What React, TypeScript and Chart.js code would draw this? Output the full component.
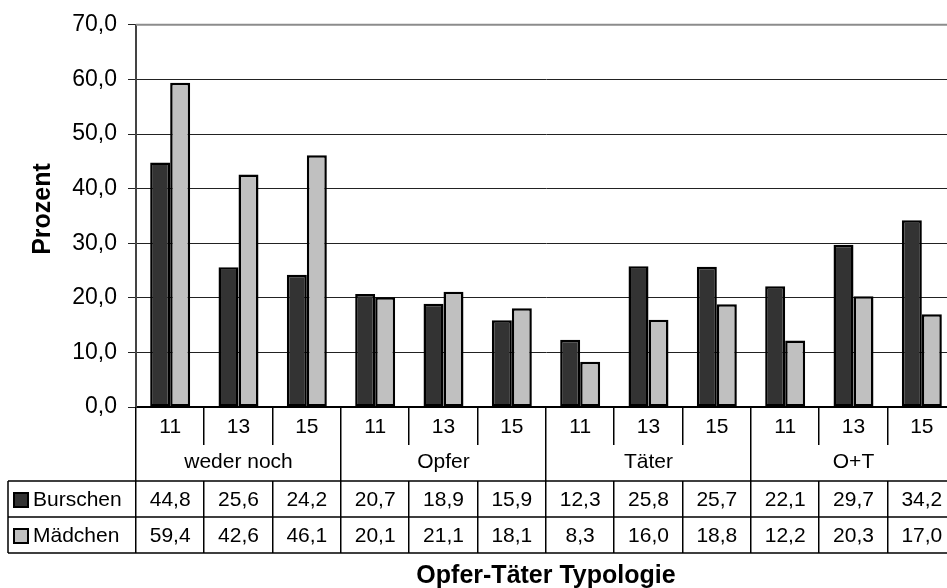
import { useEffect, useRef } from 'react';
import { Chart, registerables } from 'chart.js';

Chart.register(...registerables);

const ageLabels = ['11', '13', '15'];
const groupLabels = ['weder noch', 'Opfer', 'Täter', 'O+T'];
const seriesNames = ['Burschen', 'Mädchen'];
const burschen = [44.8, 25.6, 24.2, 20.7, 18.9, 15.9, 12.3, 25.8, 25.7, 22.1, 29.7, 34.2];
const maedchen = [59.4, 42.6, 46.1, 20.1, 21.1, 18.1, 8.3, 16.0, 18.8, 12.2, 20.3, 17.0];
const yTickLabels = ['0,0', '10,0', '20,0', '30,0', '40,0', '50,0', '60,0', '70,0'];
const xTitle = 'Opfer-Täter Typologie';
const yTitle = 'Prozent';

const FONT = '"Liberation Sans", Arial, Helvetica, sans-serif';
const DARK = '#333333';
const LIGHT = '#c0c0c0';
const CANVAS_W = 960;
const CANVAS_H = 588;

const fmt = (v: number) => v.toFixed(1).replace('.', ',');

const categories: string[] = [];
groupLabels.forEach((g) => ageLabels.forEach((a) => categories.push(`${g} ${a}`)));

const tablePlugin = {
  id: 'dataTable',
  afterDraw(chart: any) {
    const { ctx, chartArea: a, scales } = chart;
    const xs = scales.x;
    const n = categories.length;
    const catW = (a.right - a.left) / n;
    const rowAge = 427;
    const rowGroupLine = 445;
    const row1Top = 481;
    const row2Top = 517;
    const rowBottom = 553;
    const tableLeft = 8;

    ctx.save();
    // top border of plot area
    ctx.strokeStyle = '#8c8c8c';
    ctx.lineWidth = 2;
    ctx.beginPath();
    ctx.moveTo(a.left, a.top);
    ctx.lineTo(a.right, a.top);
    ctx.stroke();

    // table lines
    ctx.strokeStyle = '#000';
    ctx.lineWidth = 1.5;
    ctx.beginPath();
    for (let i = 0; i <= n; i++) {
      const bx = Math.round(a.left + i * catW) - 0.25;
      if (i % 3 === 0) {
        ctx.moveTo(bx, a.bottom);
        ctx.lineTo(bx, rowBottom);
      } else {
        ctx.moveTo(bx, a.bottom);
        ctx.lineTo(bx, rowGroupLine);
        ctx.moveTo(bx, row1Top);
        ctx.lineTo(bx, rowBottom);
      }
    }
    [row1Top, row2Top, rowBottom].forEach((y) => {
      ctx.moveTo(tableLeft, y);
      ctx.lineTo(a.right, y);
    });
    ctx.moveTo(tableLeft, row1Top);
    ctx.lineTo(tableLeft, rowBottom);
    ctx.stroke();

    // texts
    ctx.fillStyle = '#000';
    ctx.textAlign = 'center';
    ctx.textBaseline = 'middle';
    ctx.font = `21px ${FONT}`;
    for (let i = 0; i < n; i++) {
      const cx = xs.getPixelForValue(i);
      ctx.fillText(ageLabels[i % 3], cx, rowAge);
      ctx.fillText(fmt(burschen[i]), cx, (row1Top + row2Top) / 2 + 1);
      ctx.fillText(fmt(maedchen[i]), cx, (row2Top + rowBottom) / 2 + 1);
    }
    groupLabels.forEach((g, gi) => {
      const cx = xs.getPixelForValue(gi * 3 + 1);
      ctx.fillText(g, cx, 462);
    });

    // legend keys
    const keys = [
      { name: seriesNames[0], color: DARK, y: (row1Top + row2Top) / 2 },
      { name: seriesNames[1], color: LIGHT, y: (row2Top + rowBottom) / 2 },
    ];
    keys.forEach((k) => {
      ctx.fillStyle = k.color;
      ctx.fillRect(14, k.y - 6, 14, 14);
      ctx.strokeStyle = '#000';
      ctx.lineWidth = 2;
      ctx.strokeRect(14, k.y - 6, 14, 14);
      ctx.fillStyle = '#000';
      ctx.textAlign = 'left';
      ctx.fillText(k.name, 33, k.y + 1);
    });

    // axis titles
    ctx.font = `bold 25px ${FONT}`;
    ctx.textAlign = 'center';
    ctx.fillText(xTitle, (a.left + a.right) / 2, 576);
    ctx.save();
    ctx.translate(43, 209);
    ctx.rotate(-Math.PI / 2);
    ctx.fillText(yTitle, 0, 0);
    ctx.restore();

    ctx.restore();
  },
};

export default function App() {
  const ref = useRef<HTMLCanvasElement | null>(null);

  useEffect(() => {
    if (!ref.current) return;
    const chart = new Chart(ref.current, {
      type: 'bar',
      data: {
        labels: categories,
        datasets: [
          {
            label: seriesNames[0],
            data: burschen,
            backgroundColor: DARK,
            borderColor: '#000',
            borderWidth: 2.5,
            borderSkipped: false,
            categoryPercentage: 0.585,
            barPercentage: 1,
          },
          {
            label: seriesNames[1],
            data: maedchen,
            backgroundColor: LIGHT,
            borderColor: '#000',
            borderWidth: 2.5,
            borderSkipped: false,
            categoryPercentage: 0.585,
            barPercentage: 1,
          },
        ],
      },
      options: {
        responsive: false,
        animation: false,
        devicePixelRatio: 1,
        layout: { padding: { top: 22, left: 0, right: 4, bottom: 0 } },
        plugins: {
          legend: { display: false },
          tooltip: { enabled: false },
          title: { display: false },
        },
        scales: {
          x: {
            ticks: { display: false },
            grid: { display: false },
            border: { color: '#000', width: 2 },
            afterFit: (s: any) => {
              s.height = CANVAS_H - 407;
            },
          },
          y: {
            min: 0,
            max: 70,
            ticks: {
              stepSize: 10,
              padding: 11,
              color: '#000',
              font: { family: FONT, size: 23 },
              callback: (v: any) => yTickLabels[Math.round(Number(v) / 10)],
            },
            grid: { color: '#222', lineWidth: 1, tickLength: 8, drawTicks: true },
            border: { color: '#444', width: 2 },
            afterFit: (s: any) => {
              s.width = 136;
            },
          },
        },
      },
      plugins: [tablePlugin],
    });
    return () => chart.destroy();
  }, []);

  return (
    <div
      style={{
        position: 'fixed',
        left: 0,
        top: 0,
        width: 947,
        height: 588,
        overflow: 'hidden',
        background: '#fff',
      }}
    >
      <canvas
        ref={ref}
        width={CANVAS_W}
        height={CANVAS_H}
        style={{ display: 'block', width: CANVAS_W, height: CANVAS_H }}
      />
    </div>
  );
}
